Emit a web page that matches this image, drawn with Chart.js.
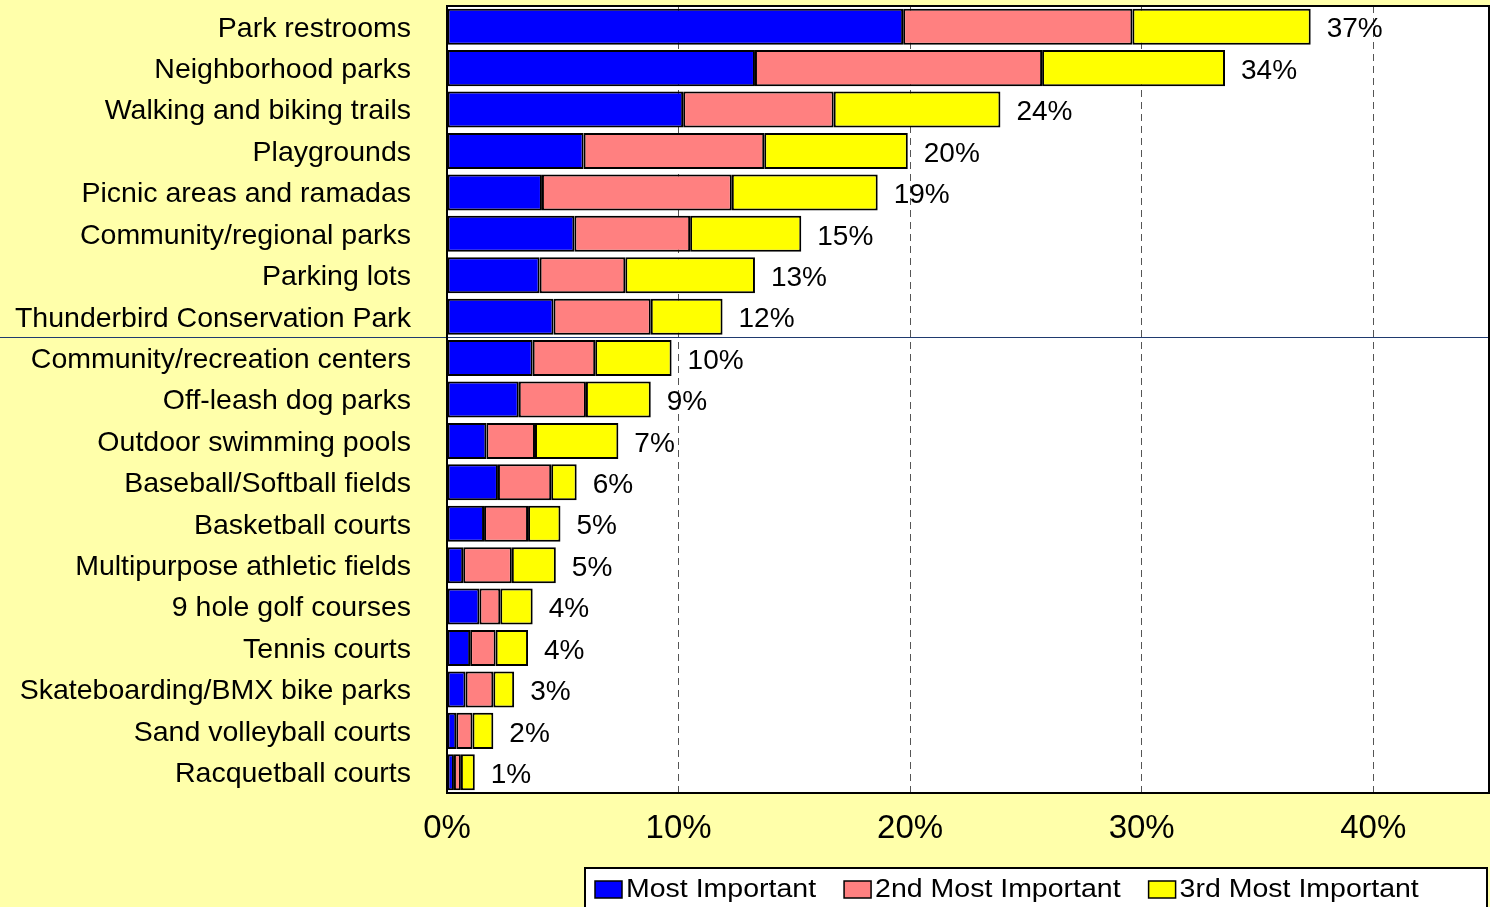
<!DOCTYPE html>
<html>
<head>
<meta charset="utf-8">
<script src="https://cdn.jsdelivr.net/npm/chart.js@4/dist/chart.umd.min.js"></script>
<style>
  html, body { margin: 0; padding: 0; background: #FFFFAA; }
  canvas { display: block; }
</style>
</head>
<body>
<canvas id="myChart" width="1490" height="907"></canvas>
<script>
// categories, top to bottom
const categories = [
    'Park restrooms', 'Neighborhood parks', 'Walking and biking trails', 'Playgrounds',
    'Picnic areas and ramadas', 'Community/regional parks', 'Parking lots',
    'Thunderbird Conservation Park', 'Community/recreation centers', 'Off-leash dog parks',
    'Outdoor swimming pools', 'Baseball/Softball fields', 'Basketball courts',
    'Multipurpose athletic fields', '9 hole golf courses', 'Tennis courts',
    'Skateboarding/BMX bike parks', 'Sand volleyball courts', 'Racquetball courts'
]
// percent of respondents
const mostImportant = [19.7, 13.3, 10.2, 5.9, 4.1, 5.5, 4.0, 4.6, 3.7, 3.1, 1.7, 2.2, 1.6, 0.7, 1.4, 1.0, 0.8, 0.4, 0.3]
const secondImportant = [9.9, 12.4, 6.5, 7.8, 8.2, 5.0, 3.7, 4.2, 2.7, 2.9, 2.1, 2.3, 1.9, 2.1, 0.9, 1.1, 1.2, 0.7, 0.3]
const thirdImportant = [7.7, 7.9, 7.2, 6.2, 6.3, 4.8, 5.6, 3.1, 3.3, 2.8, 3.6, 1.1, 1.4, 1.9, 1.4, 1.4, 0.9, 0.9, 0.6]
const totalLabels = ['37%', '34%', '24%', '20%', '19%', '15%', '13%', '12%', '10%', '9%', '7%', '6%', '5%', '5%', '4%', '4%', '3%', '2%', '1%']
const xTicks = [0, 10, 20, 30, 40]
const seriesNames = ['Most Important', '2nd Most Important', '3rd Most Important']

const FONT = '"Liberation Sans", Arial, sans-serif'

// white plot area behind the bars
const plotBackground = {
    id: 'plotBackground',
    beforeDraw(chart) {
        const { ctx, chartArea } = chart
        ctx.save()
        ctx.fillStyle = '#FFFFFF'
        ctx.fillRect(chartArea.left, chartArea.top, chartArea.right - chartArea.left, chartArea.bottom - chartArea.top)
        ctx.restore()
    }
}

// totals, separator line, frame, legend
const extras = {
    id: 'extras',
    afterDatasetsDraw(chart) {
        const { ctx, chartArea } = chart
        const yScale = chart.scales.y
        const last = chart.getDatasetMeta(chart.data.datasets.length - 1)
        ctx.save()
        ctx.font = '28px ' + FONT
        ctx.fillStyle = '#000'
        ctx.textAlign = 'left'
        ctx.textBaseline = 'middle'
        last.data.forEach(function (bar, i) {
            ctx.fillText(totalLabels[i], bar.x + 16, bar.y + 3)
        })

        // separator under Thunderbird Conservation Park
        const sepY = Math.round((yScale.getPixelForValue(7) + yScale.getPixelForValue(8)) / 2) + 0.5
        ctx.strokeStyle = '#1F3A6F'
        ctx.lineWidth = 1.2
        ctx.beginPath()
        ctx.moveTo(0, sepY)
        ctx.lineTo(chartArea.right, sepY)
        ctx.stroke()

        // frame round plot area
        ctx.strokeStyle = '#000'
        ctx.lineWidth = 2
        ctx.strokeRect(chartArea.left, chartArea.top, chartArea.right - chartArea.left, chartArea.bottom - chartArea.top)
        ctx.restore()
    },
    afterDraw(chart) {
        const { ctx } = chart
        const stretch = 1.14
        ctx.save()
        // legend box
        ctx.fillStyle = '#FFFFFF'
        ctx.fillRect(585, 868, 902, 45)
        ctx.strokeStyle = '#000'
        ctx.lineWidth = 2
        ctx.strokeRect(585, 868, 902, 45)
        ctx.font = '25px ' + FONT
        ctx.textBaseline = 'middle'
        let x = 595
        chart.data.datasets.forEach(function (ds) {
            ctx.fillStyle = ds.backgroundColor
            ctx.fillRect(x, 881, 27, 17)
            ctx.lineWidth = 1.5
            ctx.strokeRect(x, 881, 27, 17)
            x += 31
            ctx.save()
            ctx.translate(x, 890)
            ctx.scale(stretch, 1)
            ctx.fillStyle = '#000'
            ctx.fillText(ds.label, 0, 0)
            ctx.restore()
            x += ctx.measureText(ds.label).width * stretch + 28
        })
        ctx.restore()
    }
}

const ctx = document.getElementById('myChart')
new Chart(ctx, {
    type: 'bar',
    data: {
        labels: categories,
        datasets: [
            { label: seriesNames[0], data: mostImportant, backgroundColor: '#0000FF' },
            { label: seriesNames[1], data: secondImportant, backgroundColor: '#FF8080' },
            { label: seriesNames[2], data: thirdImportant, backgroundColor: '#FFFF00' }
        ].map(function (ds) {
            return Object.assign(ds, {
                borderColor: '#000000',
                borderWidth: 2,
                borderSkipped: false,
                categoryPercentage: 1,
                barPercentage: 0.87
            })
        })
    },
    options: {
        indexAxis: 'y',
        responsive: false,
        animation: false,
        layout: { padding: { top: 6, right: 1, left: 0, bottom: 0 } },
        plugins: {
            legend: { display: false },
            tooltip: { enabled: false }
        },
        scales: {
            x: {
                stacked: true,
                min: 0,
                max: 45,
                afterBuildTicks: function (scale) {
                    scale.ticks = xTicks.map(function (v) { return { value: v } })
                },
                afterFit: function (scale) {
                    scale.height = 114
                    scale.paddingLeft = 0
                    scale.paddingRight = 0
                },
                ticks: {
                    callback: function (v) { return v + '%' },
                    font: { family: FONT, size: 33 },
                    color: '#000',
                    padding: 16,
                    maxRotation: 0
                },
                grid: {
                    drawTicks: false,
                    color: function (c) { return c.tick && c.tick.value === 0 ? 'rgba(0,0,0,0)' : '#555555' },
                    lineWidth: 1
                },
                border: { display: false, dash: [7, 5] }
            },
            y: {
                stacked: true,
                afterFit: function (scale) {
                    scale.width = 447
                    scale.paddingTop = 0
                    scale.paddingBottom = 0
                },
                ticks: {
                    font: { family: FONT, size: 28.5 },
                    color: '#000',
                    padding: 36,
                    labelOffset: 2
                },
                grid: { display: false, drawTicks: false },
                border: { display: false }
            }
        }
    },
    plugins: [plotBackground, extras]
})
</script>
</body>
</html>
